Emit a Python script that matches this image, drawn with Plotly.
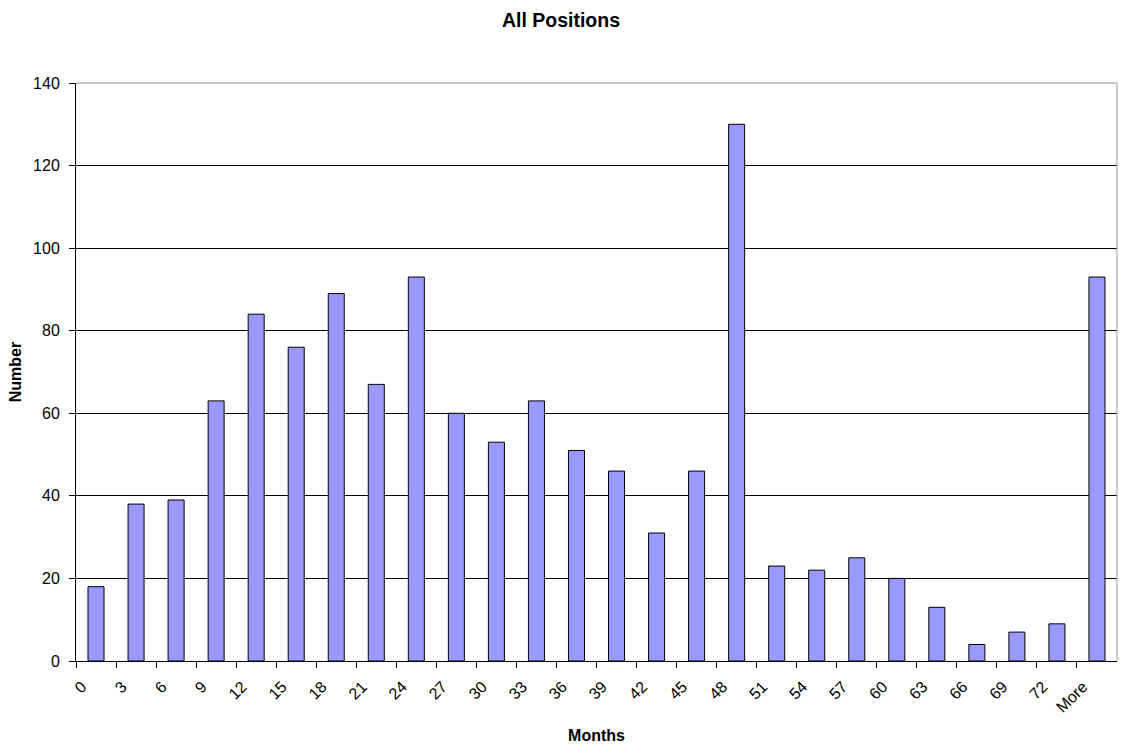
import plotly.graph_objects as go

# Histogram bins (months) and counts
bins = ["0", "3", "6", "9", "12", "15", "18", "21", "24", "27", "30", "33", "36",
        "39", "42", "45", "48", "51", "54", "57", "60", "63", "66", "69", "72", "More"]
counts = [18, 38, 39, 63, 84, 76, 89, 67, 93, 60, 53, 63, 51,
          46, 31, 46, 130, 23, 22, 25, 20, 13, 4, 7, 9, 93]

# Each bar sits between its bin label tick and the next one
bar_x = [i + 0.5 for i in range(len(bins))]
tick_pos = list(range(len(bins)))

font_family = "Liberation Sans, Arial, sans-serif"

fig = go.Figure(
    go.Bar(
        x=bar_x,
        y=counts,
        width=0.4,
        marker=dict(color="#9999FF", line=dict(color="#000000", width=1)),
    )
)

fig.update_layout(
    width=1122,
    height=744,
    paper_bgcolor="white",
    plot_bgcolor="white",
    margin=dict(l=76, r=5, t=83, b=83),
    showlegend=False,
    title=dict(
        text="<b>All Positions</b>",
        x=0.5,
        xanchor="center",
        y=0.973,
        yanchor="middle",
        font=dict(family=font_family, size=19.5, color="#000000"),
    ),
    font=dict(family=font_family, size=16, color="#000000"),
)

fig.update_xaxes(
    range=[0, len(bins)],
    automargin=False,
    tickmode="array",
    tickvals=tick_pos,
    ticktext=bins,
    tickangle=-45,
    ticks="outside",
    ticklen=6,
    tickcolor="#000000",
    ticklabelstandoff=3,
    ticklabelshift=6,
    showline=True,
    linecolor="#000000",
    linewidth=1,
    showgrid=False,
    zeroline=False,
    tickfont=dict(family=font_family, size=16, color="#000000"),
    title=dict(text="<b>Months</b>", standoff=15,
               font=dict(family=font_family, size=16, color="#000000")),
)

fig.update_yaxes(
    range=[0, 140],
    automargin=False,
    tickmode="linear",
    tick0=0,
    dtick=20,
    ticks="outside",
    ticklen=6,
    tickcolor="#000000",
    ticklabelstandoff=6,
    showline=True,
    linecolor="#000000",
    linewidth=1,
    showgrid=True,
    gridcolor="#000000",
    gridwidth=1,
    zeroline=False,
    tickfont=dict(family=font_family, size=16, color="#000000"),
    title=dict(text="<b>Number</b>", standoff=7,
               font=dict(family=font_family, size=16, color="#000000")),
)

# Gray frame on the top and right sides of the plot area
fig.add_shape(type="line", xref="paper", yref="paper", x0=0, x1=1, y0=1, y1=1,
              line=dict(color="#999999", width=1))
fig.add_shape(type="line", xref="paper", yref="paper", x0=1, x1=1, y0=0, y1=1,
              line=dict(color="#999999", width=1))

fig.write_html("out.html")
